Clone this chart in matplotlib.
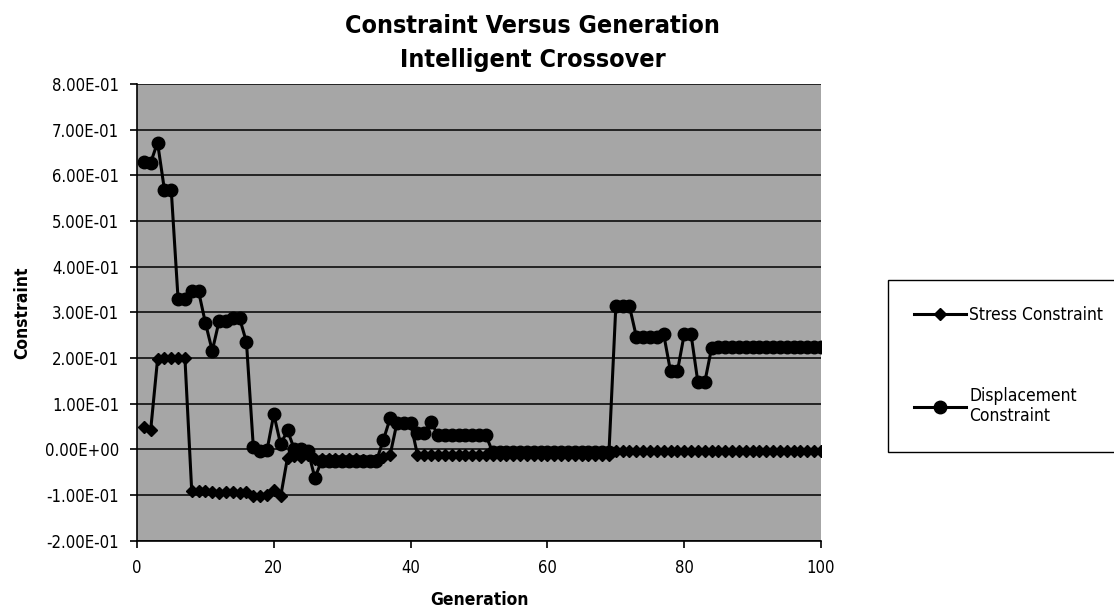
import matplotlib
matplotlib.use("Agg")
import matplotlib.pyplot as plt
from matplotlib.ticker import FuncFormatter

plt.rcParams['font.family'] = ['DejaVu Sans']
plt.rcParams['font.stretch'] = 'condensed'

# values
generation = list(range(1, 101))

stress = [0.05, 0.043, 0.197, 0.2, 0.2, 0.201, 0.201, -0.092, -0.092, -0.09,
          -0.093, -0.095, -0.093, -0.093, -0.095, -0.094, -0.101, -0.103, -0.1, -0.088,
          -0.103, -0.018, -0.015, -0.016, -0.012, -0.02, -0.022, -0.022, -0.022, -0.022,
          -0.022, -0.022, -0.024, -0.026, -0.024, -0.016, -0.012, 0.058, 0.058, 0.058,
          -0.012, -0.012, -0.012, -0.012, -0.012, -0.012, -0.012, -0.012, -0.012, -0.012,
          -0.012, -0.012, -0.012, -0.012, -0.012, -0.013, -0.013, -0.013, -0.013, -0.013,
          -0.013, -0.013, -0.013, -0.013, -0.013, -0.013, -0.013, -0.013, -0.013, -0.004,
          -0.004, -0.004, -0.004, -0.004, -0.004, -0.004, -0.004, -0.004, -0.004, -0.004,
          -0.004, -0.004, -0.004, -0.004, -0.004, -0.004, -0.004, -0.004, -0.004, -0.004,
          -0.004, -0.004, -0.004, -0.004, -0.004, -0.004, -0.004, -0.004, -0.004, -0.004]

displacement = [0.629, 0.628, 0.672, 0.569, 0.569, 0.33, 0.33, 0.346, 0.346, 0.277,
                0.216, 0.281, 0.281, 0.287, 0.287, 0.235, 0.006, -0.004, -0.002, 0.077,
                0.011, 0.042, 0.0, 0.0, -0.003, -0.062, -0.025, -0.025, -0.025, -0.025,
                -0.025, -0.025, -0.025, -0.025, -0.025, 0.02, 0.068, 0.058, 0.058, 0.058,
                0.035, 0.035, 0.06, 0.031, 0.031, 0.031, 0.031, 0.031, 0.031, 0.031,
                0.031, -0.006, -0.006, -0.006, -0.006, -0.006, -0.006, -0.006, -0.006, -0.006,
                -0.006, -0.006, -0.006, -0.006, -0.006, -0.006, -0.006, -0.006, -0.006, 0.313,
                0.313, 0.313, 0.247, 0.247, 0.247, 0.247, 0.252, 0.171, 0.171, 0.252,
                0.252, 0.147, 0.147, 0.222, 0.225, 0.225, 0.225, 0.225, 0.225, 0.225,
                0.225, 0.225, 0.225, 0.225, 0.225, 0.225, 0.225, 0.225, 0.225, 0.225]

fig = plt.figure(figsize=(11.14, 6.09), dpi=100)
ax = fig.add_axes([0.123, 0.112, 0.614, 0.750])
ax.set_facecolor('#a6a6a6')

ax.plot(generation, stress, color='black', lw=2.2, marker='D', ms=6,
        label='Stress Constraint')
ax.plot(generation, displacement, color='black', lw=2.2, marker='o', ms=9,
        label='Displacement\nConstraint')

ax.set_xlim(0, 100)
ax.set_ylim(-0.2, 0.8)
ax.set_xticks([0, 20, 40, 60, 80, 100])
ax.set_yticks([-0.2 + 0.1 * i for i in range(11)])
ax.yaxis.set_major_formatter(FuncFormatter(lambda v, p: '{:.2E}'.format(round(v, 3) + 0.0)))
ax.grid(axis='y', color='black', lw=1.1)
ax.set_axisbelow(True)
for s in ['top', 'right']:
    ax.spines[s].set_visible(False)
for s in ['left', 'bottom']:
    ax.spines[s].set_color('black')
    ax.spines[s].set_linewidth(1.2)
ax.tick_params(axis='both', labelsize=12, length=5, width=1.2, color='black')
ax.tick_params(axis='x', pad=8)
ax.tick_params(axis='y', pad=8)

ax.set_xlabel('Generation', fontsize=12.5, fontweight='bold', labelpad=10)
ax.set_ylabel('Constraint', fontsize=12.5, fontweight='bold', labelpad=10)

fig.text(0.478, 0.958, 'Constraint Versus Generation', ha='center', va='center',
         fontsize=18, fontweight='bold')
fig.text(0.478, 0.902, 'Intelligent Crossover', ha='center', va='center',
         fontsize=18, fontweight='bold')

leg = fig.legend(loc='upper left', bbox_to_anchor=(0.797, 0.54), fontsize=12.5,
                 frameon=True, fancybox=False, edgecolor='black', framealpha=1,
                 labelspacing=3.6, handlelength=3.0, borderpad=1.5,
                 handletextpad=0.2, borderaxespad=0)
leg.get_frame().set_linewidth(1.0)

fig.savefig('out.png', dpi=100)
